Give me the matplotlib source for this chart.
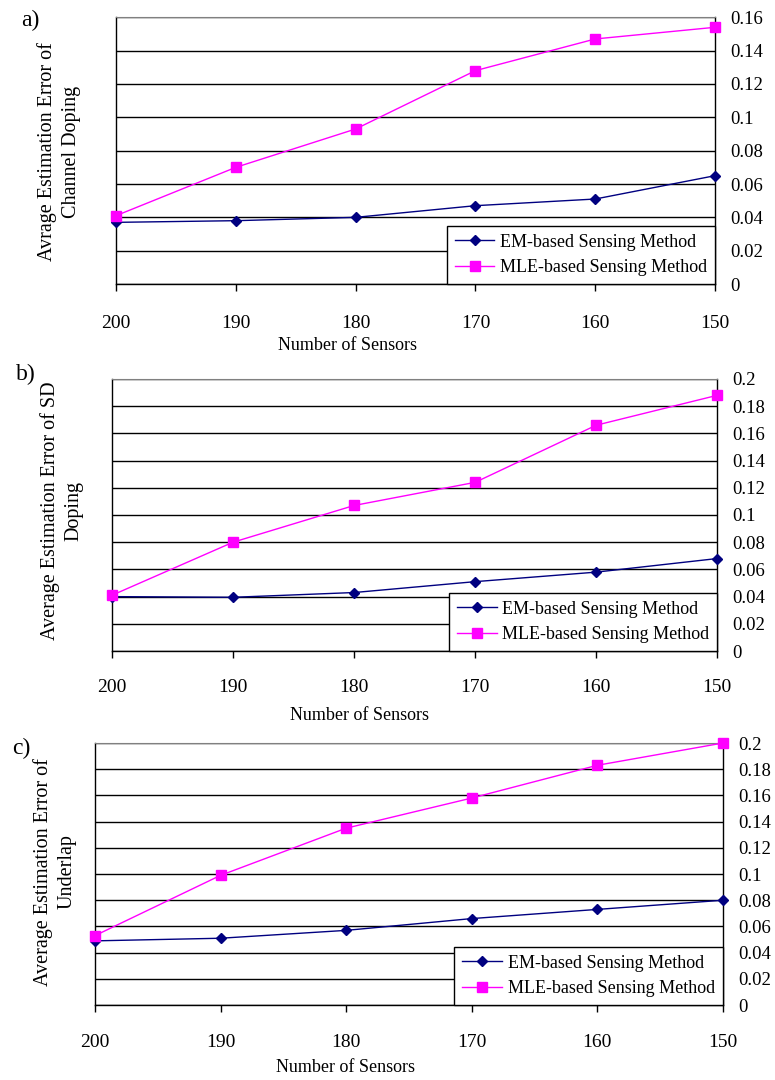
import matplotlib
matplotlib.use('Agg')
import matplotlib.pyplot as plt
import numpy as np

plt.rcParams['font.family'] = ['Liberation Serif', 'DejaVu Serif']

em_color = '#000080'
mle_color = '#ff00ff'

sensors = ['200', '190', '180', '170', '160', '150']

# a) channel doping
em_a = [0.037, 0.038, 0.040, 0.047, 0.051, 0.065]
mle_a = [0.041, 0.070, 0.093, 0.128, 0.147, 0.154]
# b) SD doping
em_b = [0.040, 0.0395, 0.043, 0.051, 0.058, 0.068]
mle_b = [0.041, 0.080, 0.107, 0.124, 0.166, 0.188]
# c) underlap
em_c = [0.049, 0.051, 0.057, 0.066, 0.073, 0.080]
mle_c = [0.053, 0.099, 0.135, 0.158, 0.183, 0.200]

panels = [
    # rect, ymax, letter, ylabel, em, mle, letter pos, ylabel pos, xlabel pos, tick pad
    ([0.1497, 0.737, 0.773, 0.247], 0.16, 'a)',
     'Avrage Estimation Error of\nChannel Doping', em_a, mle_a,
     (30, 20), (59, 152), (348, 346), 17),
    ([0.1445, 0.3972, 0.781, 0.2519], 0.2, 'b)',
     'Average Estimation Error of SD\nDoping', em_b, mle_b,
     (26, 374), (62, 511), (360, 716), 15),
    ([0.1226, 0.0694, 0.810, 0.2426], 0.2, 'c)',
     'Average Estimation Error of\nUnderlap', em_c, mle_c,
     (21, 748), (55, 872), (346, 1068), 16),
]

W, H = 775, 1080
fig = plt.figure(figsize=(W / 100, H / 100), dpi=100)

for rect, ymax, letter, ylab, em, mle, lpos, ypos, xpos, pad in panels:
    ax = fig.add_axes(rect)
    x = np.arange(len(sensors))
    ax.plot(x, em, '-D', color=em_color, lw=1.0, ms=5, label='EM-based Sensing Method',
            zorder=4, clip_on=False)
    ax.plot(x, mle, '-s', color=mle_color, lw=1.0, ms=7, label='MLE-based Sensing Method',
            zorder=5, clip_on=False)
    ax.set_xlim(0, len(sensors) - 1)
    ax.set_ylim(0, ymax)
    ax.set_xticks(x)
    ax.set_xticklabels(sensors, fontsize=14)
    ax.tick_params(axis='x', direction='out', length=5, width=1, pad=pad)
    ax.set_yticks(np.arange(0, ymax + 0.001, 0.02))
    ax.set_yticklabels(['0'] + ['%g' % v for v in np.arange(0.02, ymax + 0.001, 0.02)],
                       fontsize=13.5)
    ax.yaxis.tick_right()
    ax.tick_params(axis='y', length=0, pad=11)
    ax.grid(axis='y', color='black', lw=1.0)
    ax.set_axisbelow(True)
    for s in ['left', 'right', 'bottom']:
        ax.spines[s].set_color('black')
        ax.spines[s].set_linewidth(1.0)
    ax.spines['top'].set_color('#808080')
    leg = ax.legend(loc='lower right', bbox_to_anchor=(1, 0), borderaxespad=0,
                    fontsize=13, fancybox=False, framealpha=1, edgecolor='black',
                    handlelength=2.2, handletextpad=0.3, labelspacing=0.45,
                    borderpad=0.45)
    leg.get_frame().set_linewidth(1.0)
    leg.set_zorder(6)

    fig.text(lpos[0] / W, 1 - lpos[1] / H, letter, fontsize=17, ha='center', va='center')
    fig.text(ypos[0] / W, 1 - ypos[1] / H, ylab, fontsize=14.5, rotation=90,
             ha='center', va='center', multialignment='center', linespacing=1.3)
    fig.text(xpos[0] / W, 1 - xpos[1] / H, 'Number of Sensors', fontsize=13,
             ha='center', va='center')

fig.savefig('out.png', dpi=100)
